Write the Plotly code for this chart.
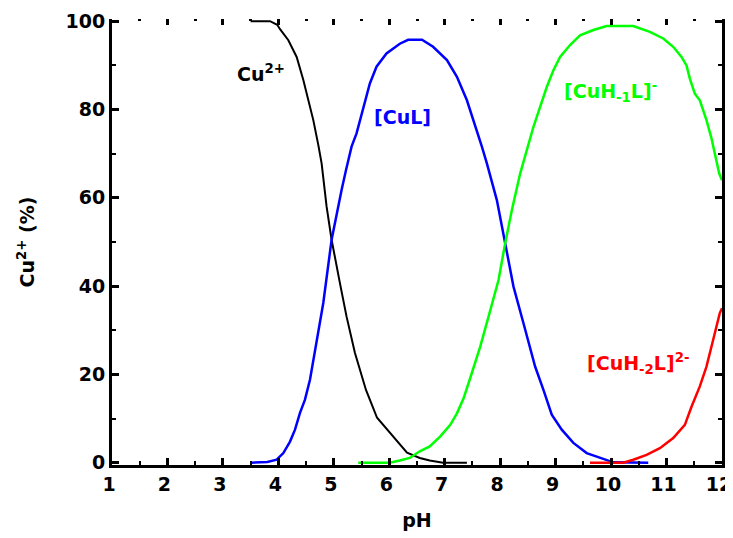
import plotly.graph_objects as go

# Species distribution data
ph_cu = [3.5, 3.85, 3.98, 4.03, 4.18, 4.33, 4.45, 4.54, 4.63, 4.72, 4.78, 4.87, 4.96, 5.11, 5.23, 5.38, 5.58, 5.78, 5.96, 6.14, 6.32, 6.55, 6.73, 6.97, 7.4]
pct_cu = [100, 100, 99.2, 98.2, 95.7, 91.9, 86.7, 82.1, 77.6, 72.0, 67.8, 58.0, 50.5, 40.7, 33.1, 24.9, 16.5, 10.2, 7.5, 4.8, 2.3, 1.1, 0.5, 0, 0]

ph_cul = [3.5, 3.8, 3.97, 4.09, 4.21, 4.30, 4.39, 4.48, 4.57, 4.69, 4.81, 4.96, 5.05, 5.14, 5.22, 5.32, 5.41, 5.53, 5.65, 5.77, 5.95, 6.19, 6.34, 6.59, 6.79, 7.04, 7.22, 7.40, 7.52, 7.67, 7.76, 7.94, 8.09, 8.24, 8.42, 8.54, 8.63, 8.78, 8.93, 9.11, 9.32, 9.56, 9.80, 10.04, 10.67]
pct_cul = [0, 0.2, 0.7, 2.2, 4.8, 7.5, 11.3, 14.3, 18.8, 27.1, 36.2, 50.5, 56.6, 61.8, 66.3, 71.6, 74.6, 80.6, 85.9, 89.7, 92.7, 94.9, 95.8, 95.8, 94.2, 91.2, 87.4, 82.1, 77.6, 71.6, 67.8, 59.5, 49.7, 39.9, 31.6, 25.6, 21.8, 16.5, 10.9, 7.5, 4.5, 2.2, 1.1, 0.1, 0]

ph_h1 = [5.44, 6.01, 6.19, 6.37, 6.55, 6.73, 6.92, 7.10, 7.22, 7.34, 7.46, 7.64, 7.79, 7.97, 8.09, 8.21, 8.36, 8.51, 8.60, 8.72, 8.84, 8.96, 9.08, 9.26, 9.44, 9.68, 9.92, 10.40, 10.70, 10.94, 11.12, 11.27, 11.36, 11.42, 11.51, 11.60, 11.72, 11.81, 11.87, 11.95, 12.0]
pct_h1 = [0, 0, 0.5, 1.1, 2.6, 3.7, 6.0, 8.6, 11.2, 14.6, 19.2, 26.3, 33.1, 41.4, 49.7, 57.2, 65.5, 72.3, 76.1, 80.6, 85.1, 88.9, 91.9, 94.6, 96.8, 98.0, 98.9, 98.9, 97.6, 96.1, 94.2, 91.9, 90.0, 87.0, 83.6, 82.1, 77.6, 73.5, 70.1, 65.5, 64.0]

ph_h2 = [9.62, 10.22, 10.40, 10.64, 10.88, 11.12, 11.33, 11.45, 11.60, 11.72, 11.84, 11.96, 12.0]
pct_h2 = [0, 0, 0.7, 1.8, 3.3, 5.6, 8.6, 12.7, 17.3, 21.8, 27.8, 33.9, 35.0]

x_ticks = list(range(1, 13))
y_ticks = [0, 20, 40, 60, 80, 100]

FONT = "DejaVu Sans, Liberation Sans, Arial, sans-serif"
TF = dict(family=FONT, size=19, color="black", weight="bold")

fig = go.Figure()
fig.add_trace(go.Scatter(x=ph_cu, y=pct_cu, mode="lines", line=dict(color="#000000", width=2)))
fig.add_trace(go.Scatter(x=ph_cul, y=pct_cul, mode="lines", line=dict(color="#0000FF", width=2.5)))
fig.add_trace(go.Scatter(x=ph_h1, y=pct_h1, mode="lines", line=dict(color="#00FF00", width=2.5)))
fig.add_trace(go.Scatter(x=ph_h2, y=pct_h2, mode="lines", line=dict(color="#FF0000", width=2.5)))
# invisible trace so the mirrored top/right axes get drawn
fig.add_trace(go.Scatter(x=[1, 12], y=[0, 0], xaxis="x2", yaxis="y2", mode="lines",
                         line=dict(width=0), opacity=0, hoverinfo="skip"))

def ann(x, y, text, color, xanchor="left"):
    fig.add_annotation(x=x, y=y, text=text, showarrow=False, xanchor=xanchor, yanchor="middle",
                       font=dict(family=FONT, size=19, color=color, weight="bold"))

ann(3.22, 88.2, "Cu<sup>2+</sup>", "#000000")
ann(6.23, 78.4, "[CuL]", "#0000FF", xanchor="center")
ann(9.12, 84.0, "[CuH<sub>-1</sub>L]<sup>-</sup>", "#00FF00")
ann(9.53, 22.5, "[CuH<sub>-2</sub>L]<sup>2-</sup>", "#FF0000")

common_x = dict(range=[1, 12], tickvals=x_ticks, showgrid=False, zeroline=False, automargin=False,
                ticks="inside", tickcolor="black")
common_y = dict(range=[-0.5, 100.5], tickvals=y_ticks, showgrid=False, zeroline=False, automargin=False,
                ticks="inside", tickcolor="black")

# the page body adds an 8px offset, so the figure is sized 8px smaller
fig.update_layout(
    width=725, height=530,
    margin=dict(l=104, r=11, t=11, b=73, autoexpand=False),
    paper_bgcolor="white", plot_bgcolor="white",
    showlegend=False,
    font=TF,
    xaxis=dict(common_x, ticktext=[str(v) for v in x_ticks], ticklabeloverflow="allow", ticklabelshift=-3,
               showline=True, linecolor="black", linewidth=3, ticklen=7, tickwidth=3,
               minor=dict(dtick=0.5, tick0=1, ticks="inside", ticklen=4, tickwidth=2, tickcolor="black", showgrid=False),
               title=dict(text="pH", font=TF, standoff=20),
               tickfont=TF),
    xaxis2=dict(common_x, overlaying="x", side="top", anchor="y", showticklabels=False, showline=False,
                ticklen=6, tickwidth=3,
                minor=dict(dtick=0.5, tick0=1, ticks="inside", ticklen=2, tickwidth=3, tickcolor="black", showgrid=False)),
    yaxis=dict(common_y, ticktext=[str(v) for v in y_ticks], ticklabeloverflow="allow",
               showline=True, linecolor="black", linewidth=3, ticklen=7, tickwidth=3,
               minor=dict(dtick=10, tick0=0, ticks="inside", ticklen=4, tickwidth=2, tickcolor="black", showgrid=False),
               title=dict(text="Cu<sup>2+</sup> (%)", font=TF, standoff=26),
               tickfont=TF),
    yaxis2=dict(common_y, overlaying="y", side="right", anchor="x", showticklabels=False,
                showline=True, linecolor="black", linewidth=3, ticklen=7, tickwidth=3,
                minor=dict(dtick=10, tick0=0, ticks="inside", ticklen=4, tickwidth=2, tickcolor="black", showgrid=False)),
)

fig.write_html("out.html")
